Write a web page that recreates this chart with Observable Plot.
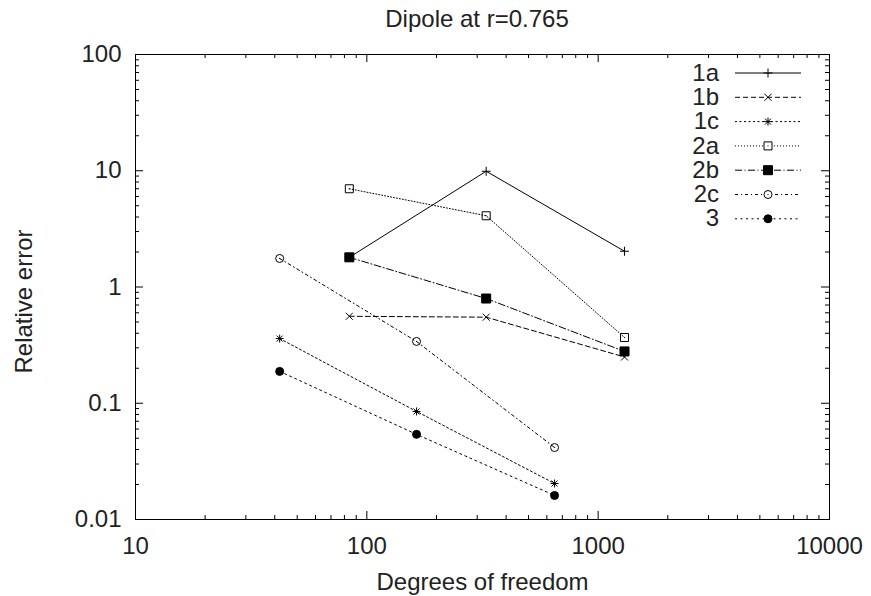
<!DOCTYPE html>
<html><head><meta charset="utf-8">
<script src="https://cdn.jsdelivr.net/npm/d3@7"></script>
<script src="https://cdn.jsdelivr.net/npm/@observablehq/plot@0.6"></script>
<style>
body{margin:0;background:#fff;}
#wrap{position:relative;width:871px;height:596px;font-family:"Liberation Sans",Arial,sans-serif;background:#fff;}
#title{box-sizing:border-box;height:40px;padding-top:6px;padding-left:83px;text-align:center;font-size:24px;line-height:26px;color:#222;}
#legend{position:absolute;left:0;top:0;pointer-events:none;}
</style></head>
<body><div id="wrap"><div id="title">Dipole at r=0.765</div><div id="chart"></div><svg id="legend" width="871" height="596"></svg></div>
<script>
// ---- data ----
const seriesNames = ["1a", "1b", "1c", "2a", "2b", "2c", "3"];
const dof1a = [84, 328, 1300];
const err1a = [1.8, 9.9, 2.03];
const dof1b = [84, 328, 1300];
const err1b = [0.56, 0.55, 0.25];
const dof1c = [42, 164, 648];
const err1c = [0.36, 0.085, 0.0204];
const dof2a = [84, 328, 1300];
const err2a = [7.0, 4.1, 0.368];
const dof2b = [84, 328, 1300];
const err2b = [1.8, 0.796, 0.279];
const dof2c = [42, 164, 648];
const err2c = [1.76, 0.34, 0.0416];
const dof3 = [42, 164, 648];
const err3 = [0.188, 0.054, 0.0161];

const xTicks = [10, 100, 1000, 10000];
const xTickLabels = ["10", "100", "1000", "10000"];
const yTicks = [0.01, 0.1, 1, 10, 100];
const yTickLabels = ["0.01", "0.1", "1", "10", "100"];
const xMinor = [20,30,40,50,60,70,80,90,200,300,400,500,600,700,800,900,2000,3000,4000,5000,6000,7000,8000,9000];
const yMinor = [0.02,0.03,0.04,0.05,0.06,0.07,0.08,0.09,0.2,0.3,0.4,0.5,0.6,0.7,0.8,0.9,2,3,4,5,6,7,8,9,20,30,40,50,60,70,80,90];

// ---- styles ----
const dofs = [dof1a, dof1b, dof1c, dof2a, dof2b, dof2c, dof3];
const errs = [err1a, err1b, err1c, err2a, err2b, err2c, err3];
const dashes = [null, "5,3", "2,2.5", "1,2", "7,2.5,1,2.5", "3,3,1,3", "2,3.5"];

const dotC = (c) => { c.moveTo(-0.5, 0); c.lineTo(0.5, 0); };
const symPlus = {draw(c){ c.moveTo(-4.5,0); c.lineTo(4.5,0); c.moveTo(0,-4.5); c.lineTo(0,4.5); }};
const symTimes = {draw(c){ c.moveTo(-3.5,-3.5); c.lineTo(3.5,3.5); c.moveTo(-3.5,3.5); c.lineTo(3.5,-3.5); }};
const symStar = {draw(c){ c.moveTo(-4,0); c.lineTo(4,0); c.moveTo(0,-4); c.lineTo(0,4); c.moveTo(-3,-3); c.lineTo(3,3); c.moveTo(-3,3); c.lineTo(3,-3); }};
const symBox = {draw(c){ c.rect(-4,-4,8,8); dotC(c); }};
const symBoxF = {draw(c){ c.rect(-4.5,-4.5,9,9); }};
const symCirc = {draw(c){ c.moveTo(4,0); c.arc(0,0,4,0,2*Math.PI); dotC(c); }};
const symCircF = {draw(c){ c.moveTo(4,0); c.arc(0,0,4,0,2*Math.PI); }};
const symbols = [symPlus, symTimes, symStar, symBox, symBoxF, symCirc, symCircF];
const fills = ["none", "none", "none", "none", "black", "none", "black"];

const W = 871, H = 556, mT = 14, mB = 77, mL = 135, mR = 42;
const iH = H - mT - mB, iW = W - mL - mR;

const marks = [];
// ticks (inward, mirrored)
marks.push(Plot.tickX(xTicks, {x: d => d, insetTop: iH - 8, stroke: "black"}));
marks.push(Plot.tickX(xTicks, {x: d => d, insetBottom: iH - 8, stroke: "black"}));
marks.push(Plot.tickX(xMinor, {x: d => d, insetTop: iH - 4, stroke: "black"}));
marks.push(Plot.tickX(xMinor, {x: d => d, insetBottom: iH - 4, stroke: "black"}));
marks.push(Plot.tickY(yTicks, {y: d => d, insetRight: iW - 8, stroke: "black"}));
marks.push(Plot.tickY(yTicks, {y: d => d, insetLeft: iW - 8, stroke: "black"}));
marks.push(Plot.tickY(yMinor, {y: d => d, insetRight: iW - 4, stroke: "black"}));
marks.push(Plot.tickY(yMinor, {y: d => d, insetLeft: iW - 4, stroke: "black"}));
marks.push(Plot.frame({stroke: "black"}));
marks.push(Plot.axisX({ticks: xTicks, tickSize: 0, tickPadding: 17, label: null, tickFormat: d => xTickLabels[xTicks.indexOf(d)]}));
marks.push(Plot.axisY({ticks: yTicks, tickSize: 0, tickPadding: 14, label: null, tickFormat: d => yTickLabels[yTicks.indexOf(d)]}));
marks.push(Plot.text(["Degrees of freedom"], {text: d => d, frameAnchor: "bottom", dy: 63, lineAnchor: "middle", textAnchor: "middle", fill: "#222"}));
marks.push(Plot.text(["Relative error"], {text: d => d, frameAnchor: "left", rotate: -90, dx: -111.5, dy: 14.5, lineAnchor: "middle", textAnchor: "middle", fill: "#222"}));

seriesNames.forEach((name, i) => {
  const data = dofs[i].map((x, j) => ({x, y: errs[i][j]}));
  marks.push(Plot.line(data, {x: "x", y: "y", stroke: "black", strokeWidth: 1, strokeDasharray: dashes[i] || undefined}));
  marks.push(Plot.dot(data, {x: "x", y: "y", r: 4.5, symbol: symbols[i], stroke: "black", strokeWidth: 1, fill: fills[i]}));
});

const chart = Plot.plot({
  width: W, height: H,
  marginTop: mT, marginBottom: mB, marginLeft: mL, marginRight: mR,
  style: {fontFamily: "'Liberation Sans', Arial, sans-serif", fontSize: "24px", color: "#222", background: "white", overflow: "visible"},
  x: {type: "log", domain: [10, 10000], axis: null},
  y: {type: "log", domain: [0.01, 100], axis: null},
  marks
});
document.getElementById("chart").appendChild(chart);

// ---- legend (top-right inside plot) ----
const leg = d3.select("#legend");
seriesNames.forEach((name, i) => {
  const y = 73 + i * 24.3;
  leg.append("text").attr("x", 719).attr("y", y).attr("dy", "0.32em")
    .attr("text-anchor", "end").attr("font-size", 24).attr("fill", "#222")
    .attr("font-family", "'Liberation Sans', Arial, sans-serif").text(name);
  leg.append("line").attr("x1", 735).attr("x2", 801).attr("y1", y).attr("y2", y)
    .attr("stroke", "black").attr("stroke-width", 1)
    .attr("stroke-dasharray", dashes[i] || null);
  leg.append("path").attr("transform", `translate(768,${y})`)
    .attr("d", d3.symbol().type(symbols[i])())
    .attr("stroke", "black").attr("fill", fills[i] === "black" ? "black" : "white");
});
</script>
</body></html>
